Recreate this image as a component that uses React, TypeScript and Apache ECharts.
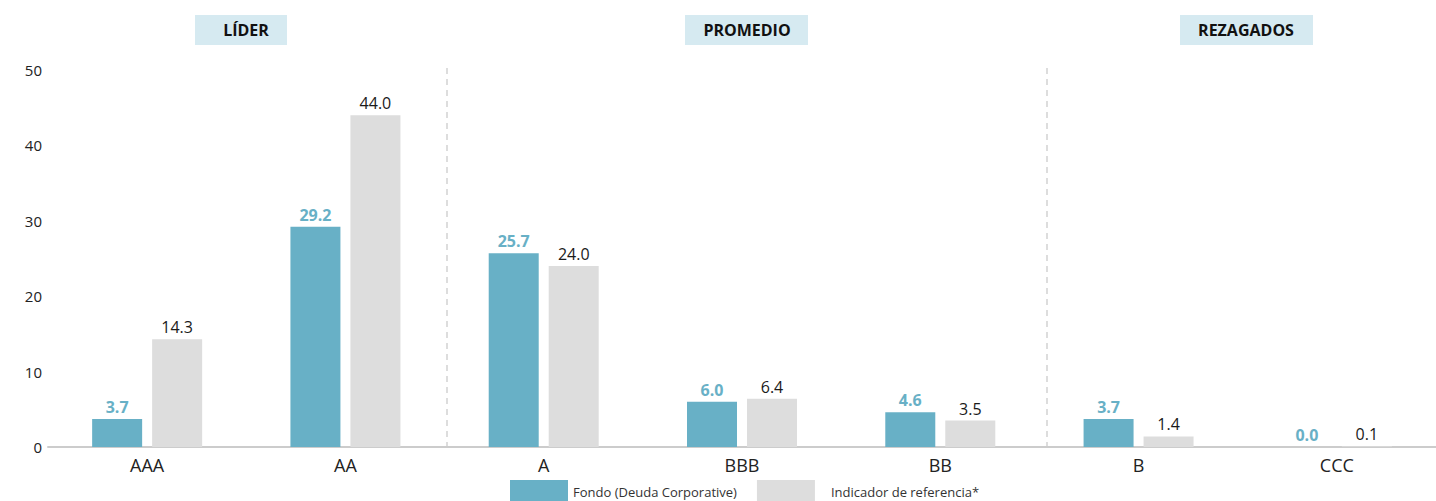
import React, { useEffect, useRef } from "react";
import * as echarts from "echarts";

const categories = ["AAA", "AA", "A", "BBB", "BB", "B", "CCC"];
const fondo = [3.7, 29.2, 25.7, 6.0, 4.6, 3.7, 0.0];
const indicador = [14.3, 44.0, 24.0, 6.4, 3.5, 1.4, 0.1];
const seriesNames = ["Fondo (Deuda Corporative)", "Indicador de referencia*"];
const groups = ["LÍDER", "PROMEDIO", "REZAGADOS"];

const FONT = "'Open Sans', 'Noto Sans', sans-serif";
const TEAL = "#68b0c6";
const GRAY = "#dddddd";

export default function App() {
  const ref = useRef<HTMLDivElement>(null);
  useEffect(() => {
    if (!ref.current) return;
    const chart = echarts.init(ref.current, undefined, { renderer: "svg" });
    const header = (label: string, bx: number, w: number, tx: number) => ({
      type: "group",
      children: [
        { type: "rect", shape: { x: bx, y: 15, width: w, height: 30 }, style: { fill: "#d6eaf1" } },
        {
          type: "text",
          x: tx,
          y: 30,
          style: { text: label, fill: "#111111", font: `bold 16px ${FONT}`, align: "center", verticalAlign: "middle" },
        },
      ],
    });
    const vline = (x: number) => ({
      type: "line",
      shape: { x1: x, y1: 68, x2: x, y2: 447 },
      style: { stroke: "#bbbbbb", lineWidth: 1, lineDash: [6, 5] },
    });
    chart.setOption({
      animation: false,
      textStyle: { fontFamily: FONT },
      grid: { left: 48, top: 70, width: 1400, height: 377, containLabel: false },
      legend: {
        left: 510,
        top: 480,
        padding: 0,
        itemWidth: 58,
        itemHeight: 24,
        itemGap: 20,
        icon: "rect",
        textStyle: { fontSize: 13, color: "#333", fontFamily: FONT },
        data: [
          { name: seriesNames[0] },
          { name: seriesNames[1], textStyle: { padding: [0, 0, 0, 11] } },
        ],
      },
      xAxis: {
        type: "category",
        data: categories,
        axisLine: { lineStyle: { color: "#cccccc", width: 2 } },
        axisTick: { show: false },
        axisLabel: { fontSize: 18, color: "#222", margin: 9, fontFamily: FONT },
      },
      yAxis: {
        type: "value",
        min: 0,
        max: 50,
        interval: 10,
        splitLine: { show: false },
        axisLine: { show: false },
        axisTick: { show: false },
        axisLabel: { fontSize: 15, color: "#222", margin: 6, fontFamily: FONT },
      },
      series: [
        {
          name: seriesNames[0],
          type: "bar",
          data: fondo,
          barWidth: 50,
          barGap: "20%",
          itemStyle: { color: TEAL },
          label: {
            show: true,
            position: "top",
            distance: 4,
            formatter: (p: any) => Number(p.value).toFixed(1),
            color: TEAL,
            fontWeight: "bold",
            fontSize: 16,
            fontFamily: FONT,
          },
        },
        {
          name: seriesNames[1],
          type: "bar",
          data: indicador,
          barWidth: 50,
          itemStyle: { color: GRAY },
          label: {
            show: true,
            position: "top",
            distance: 4,
            formatter: (p: any) => Number(p.value).toFixed(1),
            color: "#1a1a1a",
            fontSize: 16,
            fontFamily: FONT,
          },
        },
      ],
      graphic: [
        header(groups[0], 195, 92, 246),
        header(groups[1], 685, 123, 747),
        header(groups[2], 1180, 133, 1246),
        vline(447),
        vline(1047),
      ],
    });
    return () => chart.dispose();
  }, []);
  return (
    <div
      ref={ref}
      style={{ position: "absolute", left: 0, top: 0, width: 1436, height: 501, overflow: "hidden" }}
    />
  );
}
